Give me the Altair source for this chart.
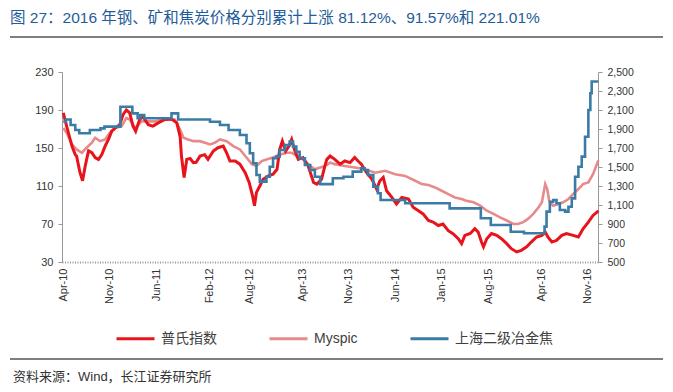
import altair as alt
import pandas as pd

FONT = "Liberation Sans, Noto Sans CJK SC, sans-serif"

title_text = "图 27：2016 年钢、矿和焦炭价格分别累计上涨 81.12%、91.57%和 221.01%"
source_text = "资料来源：Wind，长江证券研究所"
names = ["普氏指数", "Myspic", "上海二级冶金焦"]
colors = ["#E8141B", "#E8898A", "#3A7CA5"]

start = pd.Timestamp("2010-04-01")
x_domain = ["2010-03-26", "2016-12-17"]
tick_dates = [(2010, 4), (2010, 11), (2011, 6), (2012, 2), (2012, 8), (2013, 4),
              (2013, 11), (2014, 6), (2015, 1), (2015, 8), (2016, 4), (2016, 11)]

# months since Apr-2010 and values
platts_m = [0.0, 0.5, 1.3, 1.8, 2.0, 2.5, 2.9, 3.3, 3.8, 4.3, 4.8, 5.3, 5.8, 6.3, 6.8, 7.3, 7.8,
            8.5, 9.0, 9.5, 10.0, 10.5, 10.9, 11.5, 12.0, 12.8, 13.5, 14.3, 15.3, 16.3, 17.1, 17.6,
            17.8, 18.2, 18.6, 19.1, 19.6, 20.0, 20.6, 21.3, 21.8, 22.6, 23.3, 24.1, 24.6, 25.1,
            25.9, 26.6, 27.4, 28.0, 28.5, 28.8, 29.1, 29.6, 30.1, 30.9, 31.6, 32.2, 32.6, 33.0,
            33.5, 34.0, 34.4, 34.9, 35.4, 36.1, 36.9, 37.7, 38.2, 38.9, 39.4, 39.7, 40.2, 40.9,
            41.7, 42.4, 43.2, 43.9, 44.4, 44.9, 45.7, 46.5, 47.2, 47.7, 48.2, 48.7, 49.5, 50.2,
            51.0, 52.0, 52.7, 53.5, 54.2, 55.0, 55.7, 56.5, 57.2, 58.0, 58.7, 59.5, 60.0, 60.5,
            61.3, 62.0, 62.5, 63.0, 63.3, 63.8, 64.5, 65.3, 66.0, 66.8, 67.5, 68.3, 69.0, 69.8,
            70.5, 71.3, 72.1, 72.6, 73.0, 73.6, 74.3, 75.1, 75.8, 76.8, 77.6, 78.3, 79.1, 79.8,
            80.4, 80.6]
platts_v = [187, 173, 152, 143, 141.5, 124.5, 115.5, 131, 147, 145, 140, 138, 143, 152, 159, 167.7, 171,
            174.6, 185, 190, 187, 173, 167.7, 180, 183, 174.6, 173, 176.4, 180, 180.6, 176.4, 162,
            141.5, 119, 138, 139, 134.6, 135, 141.5, 143, 138, 146.8, 150.3, 152, 145, 136.3,
            136.3, 133, 124, 113.7, 99.8, 89.3, 103.3, 110, 117, 120.6, 122.4, 127.6, 148.5, 157.2,
            146.8, 152, 159, 146.8, 138, 140, 131, 113.7, 112, 117, 131, 138, 141.5, 138,
            133, 136.3, 134.6, 140, 136.3, 133, 124, 117, 106.8, 115.5, 119, 105, 98, 91,
            98, 96.3, 87.6, 84, 80.6, 73.7, 72, 68.4, 70, 63, 59.8, 54.5, 49.3, 58,
            60, 65, 61.5, 51, 46, 54.5, 60, 58, 54.5, 49.3, 44, 40.6, 42.3, 46,
            51, 56.3, 58, 61.5, 56.3, 51, 52.8, 58, 60, 58, 56.3, 65, 72, 79,
            82.4, 84]

myspic_m = [0.0, 0.5, 1.3, 2.0, 2.8, 3.5, 4.3, 4.8, 5.5, 6.3, 7.0, 7.8, 8.8, 9.5, 10.0, 10.8, 11.8,
            12.8, 13.8, 15.3, 16.8, 17.6, 18.1, 18.8, 19.6, 20.6, 22.1, 22.8, 23.6, 24.6, 25.6,
            26.6, 27.6, 28.4, 29.1, 29.9, 30.6, 31.6, 32.6, 33.6, 34.4, 35.2, 36.1, 37.2, 37.9,
            38.7, 39.4, 40.2, 40.9, 42.4, 43.9, 45.4, 47.0, 48.5, 50.0, 51.5, 53.0, 54.0, 55.0,
            56.0, 57.0, 58.0, 59.0, 60.0, 60.7, 61.8, 62.8, 63.8, 64.8, 65.8, 66.8, 67.8, 68.5,
            69.3, 70.0, 70.8, 71.6, 72.1, 72.6, 72.9, 73.2, 73.8, 74.6, 75.3, 76.1, 76.8, 77.6,
            78.3, 79.1, 79.8, 80.6]
myspic_v = [171, 166, 153.8, 148.5, 145, 150.3, 155.5, 160.8, 157.2, 159, 166, 171, 173, 181.6, 180, 171, 178,
            178, 178, 180, 180, 169.4, 160.8, 159, 157.2, 157.2, 153.8, 155.5, 159, 157.2, 152,
            148.5, 140, 133, 131, 136.3, 138, 140, 143, 145, 145, 141.5, 138, 131, 127.6,
            129.4, 131, 134.6, 133, 131, 129.4, 127.6, 124, 126, 122.4, 120.6, 115.5, 112, 111,
            108.5, 105, 101.5, 98, 96.3, 94.5, 92.9, 89.3, 84, 80.6, 77, 73.7, 70, 70,
            72, 75.4, 80.6, 87.6, 92.9, 112, 106.8, 94.5, 89.3, 91, 92.9, 96.3, 101.5, 106.8,
            112, 113.7, 122.4, 137]

coke_m = [0.0, 0.4, 1.1, 1.8, 2.4, 4.0, 5.6, 6.2, 8.6, 10.4, 11.2, 11.6, 12.2, 16.3, 17.3, 22.1,
          23.6, 24.9, 26.6, 27.6, 28.1, 28.6, 29.1, 29.6, 30.6, 31.1, 31.6, 32.1, 32.6, 33.4, 34.1,
          34.6, 35.1, 35.6, 36.4, 37.2, 37.9, 38.7, 40.6, 42.2, 43.6, 44.9, 45.4, 45.9, 46.7,
          47.4, 47.8, 51.5, 58.2, 62.9, 64.4, 67.4, 69.4, 72.5, 72.8, 73.3, 73.8, 74.3, 74.8,
          75.6, 76.1, 76.6, 77.1, 77.6, 78.1, 78.6, 79.1, 79.4, 79.6, 80.6]
coke_v = [1977, 2000, 1942, 1890, 1855, 1890, 1907, 1925, 2135, 2065, 2013, 2047, 2013, 2065, 2000, 1977,
          1942, 1890, 1837, 1750, 1645, 1539, 1416, 1346, 1398, 1503, 1592, 1609, 1679, 1732, 1767,
          1714, 1661, 1592, 1521, 1468, 1398, 1320, 1381, 1398, 1451, 1486, 1468, 1416, 1293,
          1223, 1153, 1118, 1065, 960, 890, 819, 802, 872, 1030, 1135, 1153, 1118, 1047,
          1030, 1082, 1170, 1398, 1503, 1609, 1819, 2100, 2276, 2400, 2400]


def to_dates(ms):
    return [start + pd.Timedelta(days=m * 30.44) for m in ms]


df_platts = pd.DataFrame({"date": to_dates(platts_m), "value": platts_v, "series": names[0]})
df_myspic = pd.DataFrame({"date": to_dates(myspic_m), "value": myspic_v, "series": names[1]})
df_coke = pd.DataFrame({"date": to_dates(coke_m), "value": coke_v, "series": names[2]})

color_scale = alt.Scale(domain=names, range=colors)
legend = alt.Legend(title=None, orient="none", direction="horizontal", legendX=53, legendY=246,
                    symbolType="stroke", symbolSize=1444, symbolStrokeWidth=3,
                    labelFontSize=14, labelFont=FONT, labelColor="#404040",
                    columnPadding=46, labelOffset=5)

x_enc = alt.X("date:T", scale=alt.Scale(domain=x_domain),
              axis=alt.Axis(values=[alt.DateTime(year=y, month=m, date=1) for y, m in tick_dates],
                            format="%b-%y", labelAngle=270, title=None, grid=False,
                            ticks=False, labelPadding=6, labelFontSize=11, labelFont=FONT,
                            labelColor="#333333", domainColor="#999999", domainWidth=2,
                            domainDash=[1, 1.5]))

left_y = alt.Y("value:Q", scale=alt.Scale(domain=[30, 230], nice=False, zero=False),
               axis=alt.Axis(values=[30, 70, 110, 150, 190, 230], title=None, grid=False,
                             orient="left", tickSize=4, labelPadding=5, domainColor="#999999",
                             tickColor="#999999", labelFontSize=11, labelFont=FONT,
                             labelColor="#333333"))
right_y = alt.Y("value:Q", scale=alt.Scale(domain=[500, 2500], nice=False, zero=False),
                axis=alt.Axis(values=list(range(500, 2501, 200)), format=",.0f", title=None,
                              grid=False, orient="right", tickSize=4, labelPadding=5,
                              domainColor="#999999", tickColor="#999999", labelFontSize=10.5,
                              labelFont=FONT, labelColor="#333333"))

col = alt.Color("series:N", scale=color_scale, legend=legend)

pink = alt.Chart(df_myspic).mark_line(strokeWidth=2.6).encode(x=x_enc, y=left_y, color=col)
red = alt.Chart(df_platts).mark_line(strokeWidth=3).encode(x=x_enc, y=left_y, color=col)
blue = alt.Chart(df_coke).mark_line(strokeWidth=2.6, interpolate="step-after").encode(
    x=x_enc, y=right_y, color=col)

deco = pd.DataFrame({"t": [title_text], "s": [source_text]})
title_mark = alt.Chart(deco).mark_text(align="left", baseline="middle", fontSize=15.5, font=FONT,
                                       color="#1F5C99").encode(
    x=alt.value(-52), y=alt.value(-54), text="t:N")
source_mark = alt.Chart(deco).mark_text(align="left", baseline="middle", fontSize=13, font=FONT,
                                        color="#333333").encode(
    x=alt.value(-49), y=alt.value(305), text="s:N")
rule_top = alt.Chart(deco).mark_rule(color="#000000", strokeWidth=1.2).encode(
    x=alt.value(-52), x2=alt.value(601), y=alt.value(-35))
rule_bottom = alt.Chart(deco).mark_rule(color="#000000", strokeWidth=1.2).encode(
    x=alt.value(-52), x2=alt.value(601), y=alt.value(287))

left_layer = alt.layer(pink, red)
chart = alt.layer(left_layer, blue, title_mark, source_mark, rule_top, rule_bottom).resolve_scale(
    y="independent"
).properties(
    width=536, height=190,
    padding={"left": 54, "top": 64, "right": 67, "bottom": 122},
    autosize=alt.AutoSizeParams(type="none"),
).configure_view(strokeWidth=0)

chart.save("out.html", embed_options={"renderer": "svg", "actions": False})
